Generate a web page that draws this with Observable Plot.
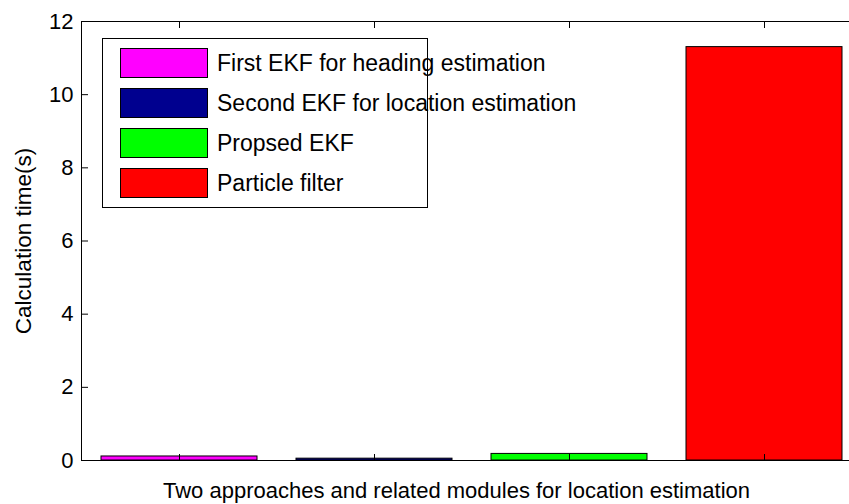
<!DOCTYPE html>
<html><head><meta charset="utf-8">
<script src="https://cdn.jsdelivr.net/npm/d3@7"></script>
<script src="https://cdn.jsdelivr.net/npm/@observablehq/plot@0.6"></script>
<style>
body{margin:0;background:#fff;font-family:"Liberation Sans",Arial,sans-serif;}
#wrap{position:relative;width:849px;height:504px;}
#legend{position:absolute;left:102px;top:38px;width:326px;height:170px;border:1px solid #000;background:#fff;box-sizing:border-box;}
.row{position:absolute;left:17px;height:30px;display:flex;align-items:center;}
.sw{width:88px;height:30px;border:1px solid #000;box-sizing:border-box;margin-right:9px;}
.lab{font-size:23px;color:#000;white-space:nowrap;}
</style></head><body>
<div id="wrap"></div>
<script>
const categories = ["First EKF for heading estimation","Second EKF for location estimation","Propsed EKF","Particle filter"];
const values = [0.11, 0.05, 0.18, 11.3];
const colors = ["#ff00ff","#00008f","#00ff00","#ff0000"];
const yTicks = [0,2,4,6,8,10,12];

const data = categories.map((c,i)=>({c, v: values[i], col: colors[i]}));
const W = 849, H = 504, ML = 81, MT = 21, MB = 44;
const plot = Plot.plot({
  width: W, height: H,
  marginLeft: ML, marginRight: 0, marginTop: MT, marginBottom: MB,
  style: {fontFamily: '"Liberation Sans", Arial, sans-serif', fontSize: "22px", color: "#000", background: "#fff"},
  x: {domain: categories, range: [ML, ML + 4*195.3], paddingInner: 0.2, paddingOuter: 0.1, label: null},
  y: {domain: [0,12], label: null},
  marks: [
    Plot.barY(data, {x: "c", y: "v", fill: "col", stroke: "#000", strokeWidth: 1}),
    Plot.ruleY([0, 12], {stroke: "#000", strokeWidth: 1}),
    Plot.frame({anchor: "left", stroke: "#000"}),
    Plot.axisY({ticks: yTicks, tickSize: -7, tickPadding: 15, fontSize: 22, label: null, tickFormat: d=>d}),
    Plot.axisX({anchor: "bottom", tickSize: -6, tickFormat: () => "", label: null}),
    Plot.axisX({anchor: "top", tickSize: -6, tickFormat: () => "", label: null}),
    Plot.text(["Two approaches and related modules for location estimation"], {frameAnchor: "bottom", dx: -9, dy: 37, fontSize: 22, text: d=>d}),
    Plot.text(["Calculation time(s)"], {frameAnchor: "left", dx: -58, rotate: -90, textAnchor: "middle", fontSize: 22.5, text: d=>d})
  ]
});
const wrap = document.getElementById("wrap");
wrap.appendChild(plot);
const leg = document.createElement("div");
leg.id = "legend";
categories.forEach((c,i)=>{
  const r = document.createElement("div");
  r.className = "row";
  r.style.top = (9 + i*40) + "px";
  r.innerHTML = `<div class="sw" style="background:${colors[i]}"></div><span class="lab">${c}</span>`;
  leg.appendChild(r);
});
wrap.appendChild(leg);
</script>
</body></html>
